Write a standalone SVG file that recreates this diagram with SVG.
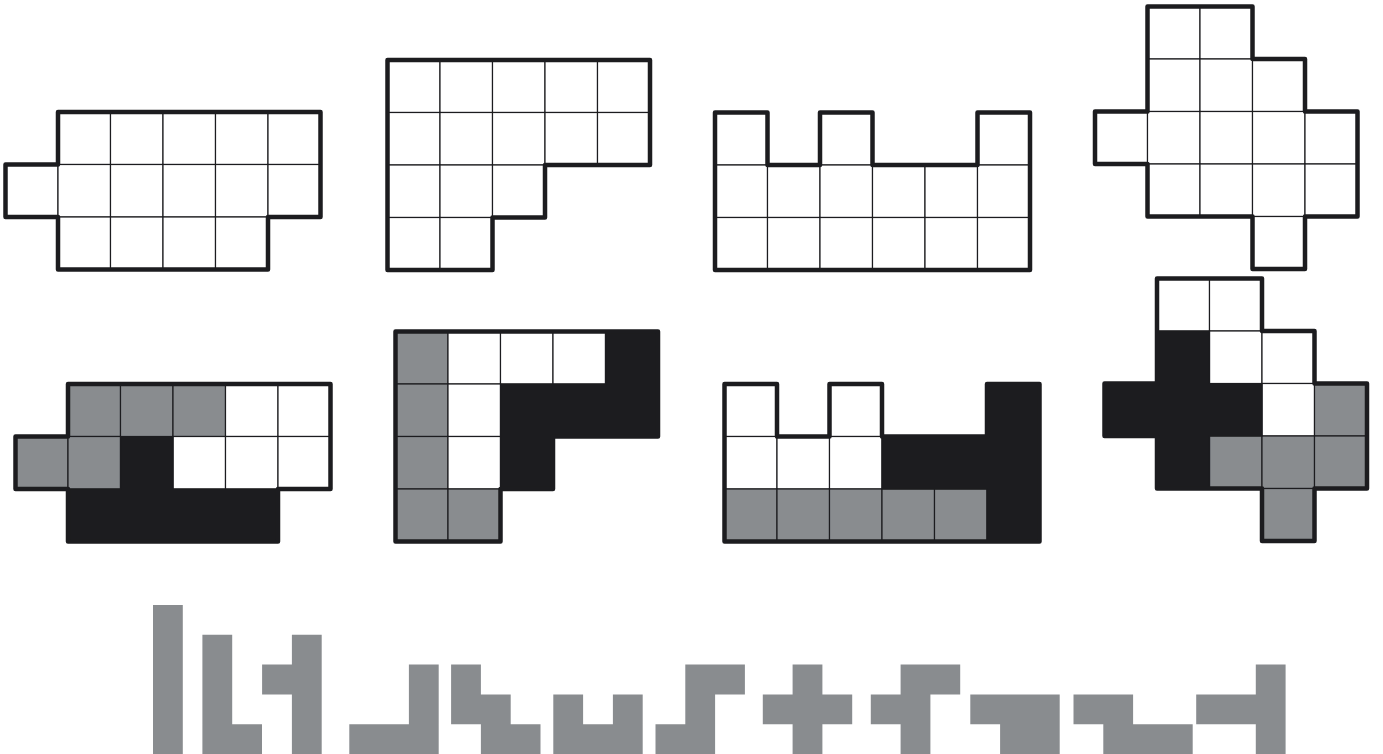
<svg xmlns="http://www.w3.org/2000/svg" width="1383" height="754" viewBox="0 0 1383 754">
<defs>
<style>
.w{fill:#ffffff;stroke:#1c1c1f;stroke-width:1.2}
.g{fill:#898c8f;stroke:#1c1c1f;stroke-width:1.2}
.b{fill:#1c1c1f;stroke:#1c1c1f;stroke-width:1.2}
.o{fill:none;stroke:#1c1c1f;stroke-width:4.5;stroke-linejoin:round}
.p{fill:#898c8f}
</style>
<rect id="c" width="52.5" height="52.5"/>
</defs>
<rect width="1383" height="754" fill="#ffffff"/>

<g id="shape1" transform="translate(5.5,112)">
<use href="#c" class="w" x="52.5" y="0"/><use href="#c" class="w" x="105" y="0"/><use href="#c" class="w" x="157.5" y="0"/><use href="#c" class="w" x="210" y="0"/><use href="#c" class="w" x="262.5" y="0"/>
<use href="#c" class="w" x="0" y="52.5"/><use href="#c" class="w" x="52.5" y="52.5"/><use href="#c" class="w" x="105" y="52.5"/><use href="#c" class="w" x="157.5" y="52.5"/><use href="#c" class="w" x="210" y="52.5"/><use href="#c" class="w" x="262.5" y="52.5"/>
<use href="#c" class="w" x="52.5" y="105"/><use href="#c" class="w" x="105" y="105"/><use href="#c" class="w" x="157.5" y="105"/><use href="#c" class="w" x="210" y="105"/>
<path class="o" d="M52.5,0 H315 V105 H262.5 V157.5 H52.5 V105 H0 V52.5 H52.5 Z"/>
</g>

<g id="shape2" transform="translate(387.5,60)">
<use href="#c" class="w" x="0" y="0"/><use href="#c" class="w" x="52.5" y="0"/><use href="#c" class="w" x="105" y="0"/><use href="#c" class="w" x="157.5" y="0"/><use href="#c" class="w" x="210" y="0"/>
<use href="#c" class="w" x="0" y="52.5"/><use href="#c" class="w" x="52.5" y="52.5"/><use href="#c" class="w" x="105" y="52.5"/><use href="#c" class="w" x="157.5" y="52.5"/><use href="#c" class="w" x="210" y="52.5"/>
<use href="#c" class="w" x="0" y="105"/><use href="#c" class="w" x="52.5" y="105"/><use href="#c" class="w" x="105" y="105"/>
<use href="#c" class="w" x="0" y="157.5"/><use href="#c" class="w" x="52.5" y="157.5"/>
<path class="o" d="M0,0 H262.5 V105 H157.5 V157.5 H105 V210 H0 Z"/>
</g>

<g id="shape3" transform="translate(715,112.5)">
<use href="#c" class="w" x="0" y="0"/><use href="#c" class="w" x="105" y="0"/><use href="#c" class="w" x="262.5" y="0"/>
<use href="#c" class="w" x="0" y="52.5"/><use href="#c" class="w" x="52.5" y="52.5"/><use href="#c" class="w" x="105" y="52.5"/><use href="#c" class="w" x="157.5" y="52.5"/><use href="#c" class="w" x="210" y="52.5"/><use href="#c" class="w" x="262.5" y="52.5"/>
<use href="#c" class="w" x="0" y="105"/><use href="#c" class="w" x="52.5" y="105"/><use href="#c" class="w" x="105" y="105"/><use href="#c" class="w" x="157.5" y="105"/><use href="#c" class="w" x="210" y="105"/><use href="#c" class="w" x="262.5" y="105"/>
<path class="o" d="M0,0 H52.5 V52.5 H105 V0 H157.5 V52.5 H262.5 V0 H315 V157.5 H0 Z"/>
</g>

<g id="shape4" transform="translate(1095,6.5)">
<use href="#c" class="w" x="52.5" y="0"/><use href="#c" class="w" x="105" y="0"/>
<use href="#c" class="w" x="52.5" y="52.5"/><use href="#c" class="w" x="105" y="52.5"/><use href="#c" class="w" x="157.5" y="52.5"/>
<use href="#c" class="w" x="0" y="105"/><use href="#c" class="w" x="52.5" y="105"/><use href="#c" class="w" x="105" y="105"/><use href="#c" class="w" x="157.5" y="105"/><use href="#c" class="w" x="210" y="105"/>
<use href="#c" class="w" x="52.5" y="157.5"/><use href="#c" class="w" x="105" y="157.5"/><use href="#c" class="w" x="157.5" y="157.5"/><use href="#c" class="w" x="210" y="157.5"/>
<use href="#c" class="w" x="157.5" y="210"/>
<path class="o" d="M52.5,0 H157.5 V52.5 H210 V105 H262.5 V210 H210 V262.5 H157.5 V210 H52.5 V157.5 H0 V105 H52.5 Z"/>
</g>

<g id="shape5" transform="translate(15.5,384)">
<use href="#c" class="g" x="52.5" y="0"/><use href="#c" class="g" x="105" y="0"/><use href="#c" class="g" x="157.5" y="0"/><use href="#c" class="w" x="210" y="0"/><use href="#c" class="w" x="262.5" y="0"/>
<use href="#c" class="g" x="0" y="52.5"/><use href="#c" class="g" x="52.5" y="52.5"/><use href="#c" class="w" x="157.5" y="52.5"/><use href="#c" class="w" x="210" y="52.5"/><use href="#c" class="w" x="262.5" y="52.5"/>
<path class="b" d="M105,52.5 H157.5 V105 H262.5 V157.5 H52.5 V105 H105 Z"/>
<path class="o" d="M52.5,0 H315 V105 H262.5 V157.5 H52.5 V105 H0 V52.5 H52.5 Z"/>
</g>

<g id="shape6" transform="translate(395.5,331.5)">
<use href="#c" class="g" x="0" y="0"/><use href="#c" class="w" x="52.5" y="0"/><use href="#c" class="w" x="105" y="0"/><use href="#c" class="w" x="157.5" y="0"/>
<use href="#c" class="g" x="0" y="52.5"/><use href="#c" class="w" x="52.5" y="52.5"/>
<use href="#c" class="g" x="0" y="105"/><use href="#c" class="w" x="52.5" y="105"/>
<use href="#c" class="g" x="0" y="157.5"/><use href="#c" class="g" x="52.5" y="157.5"/>
<path class="b" d="M210,0 H262.5 V105 H157.5 V157.5 H105 V52.5 H210 Z"/>
<path class="o" d="M0,0 H262.5 V105 H157.5 V157.5 H105 V210 H0 Z"/>
</g>

<g id="shape7" transform="translate(724.5,384)">
<use href="#c" class="w" x="0" y="0"/><use href="#c" class="w" x="105" y="0"/>
<use href="#c" class="w" x="0" y="52.5"/><use href="#c" class="w" x="52.5" y="52.5"/><use href="#c" class="w" x="105" y="52.5"/>
<use href="#c" class="g" x="0" y="105"/><use href="#c" class="g" x="52.5" y="105"/><use href="#c" class="g" x="105" y="105"/><use href="#c" class="g" x="157.5" y="105"/><use href="#c" class="g" x="210" y="105"/>
<path class="b" d="M262.5,0 H315 V157.5 H262.5 V105 H157.5 V52.5 H262.5 Z"/>
<path class="o" d="M0,0 H52.5 V52.5 H105 V0 H157.5 V52.5 H262.5 V0 H315 V157.5 H0 Z"/>
</g>

<g id="shape8" transform="translate(1104.5,278.5)">
<use href="#c" class="w" x="52.5" y="0"/><use href="#c" class="w" x="105" y="0"/>
<use href="#c" class="w" x="105" y="52.5"/><use href="#c" class="w" x="157.5" y="52.5"/>
<use href="#c" class="w" x="157.5" y="105"/><use href="#c" class="g" x="210" y="105"/>
<use href="#c" class="g" x="105" y="157.5"/><use href="#c" class="g" x="157.5" y="157.5"/><use href="#c" class="g" x="210" y="157.5"/>
<use href="#c" class="g" x="157.5" y="210"/>
<path class="b" d="M52.5,52.5 H105 V105 H157.5 V157.5 H105 V210 H52.5 V157.5 H0 V105 H52.5 Z"/>
<path class="o" d="M52.5,0 H157.5 V52.5 H210 V105 H262.5 V210 H210 V262.5 H157.5 V210 H52.5 V157.5 H0 V105 H52.5 Z"/>
</g>

<g id="pentominoes">
<path id="pI" class="p" transform="translate(153,605)" d="M0,0 H29.8 V149 H0 Z"/>
<path id="pL" class="p" transform="translate(202.4,605)" d="M0,29.8 H29.8 V119.2 H59.6 V149 H0 Z"/>
<path id="pY" class="p" transform="translate(262.1,605)" d="M29.8,29.8 H59.6 V149 H29.8 V89.4 H0 V59.6 H29.8 Z"/>
<path id="pV" class="p" transform="translate(349.3,605)" d="M59.6,59.6 H89.4 V149 H0 V119.2 H59.6 Z"/>
<path id="pW" class="p" transform="translate(451.1,605)" d="M0,59.6 H29.8 V89.4 H59.6 V119.2 H89.4 V149 H29.8 V119.2 H0 Z"/>
<path id="pU" class="p" transform="translate(553.3,605)" d="M0,89.4 H29.8 V119.2 H59.6 V89.4 H89.4 V149 H0 Z"/>
<path id="pZ" class="p" transform="translate(655.5,605)" d="M29.8,59.6 H89.4 V89.4 H59.6 V149 H0 V119.2 H29.8 Z"/>
<path id="pX" class="p" transform="translate(762.8,605)" d="M29.8,59.6 H59.6 V89.4 H89.4 V119.2 H59.6 V149 H29.8 V119.2 H0 V89.4 H29.8 Z"/>
<path id="pF" class="p" transform="translate(870.8,605)" d="M29.8,59.6 H89.4 V89.4 H59.6 V149 H29.8 V119.2 H0 V89.4 H29.8 Z"/>
<path id="pP" class="p" transform="translate(970.3,605)" d="M0,89.4 H89.4 V149 H29.8 V119.2 H0 Z"/>
<path id="pN" class="p" transform="translate(1073.5,605)" d="M0,89.4 H59.6 V119.2 H119.2 V149 H29.8 V119.2 H0 Z"/>
<path id="pT" class="p" transform="translate(1196.2,605)" d="M59.6,59.6 H89.4 V149 H59.6 V119.2 H0 V89.4 H59.6 Z"/>
</g>
</svg>
